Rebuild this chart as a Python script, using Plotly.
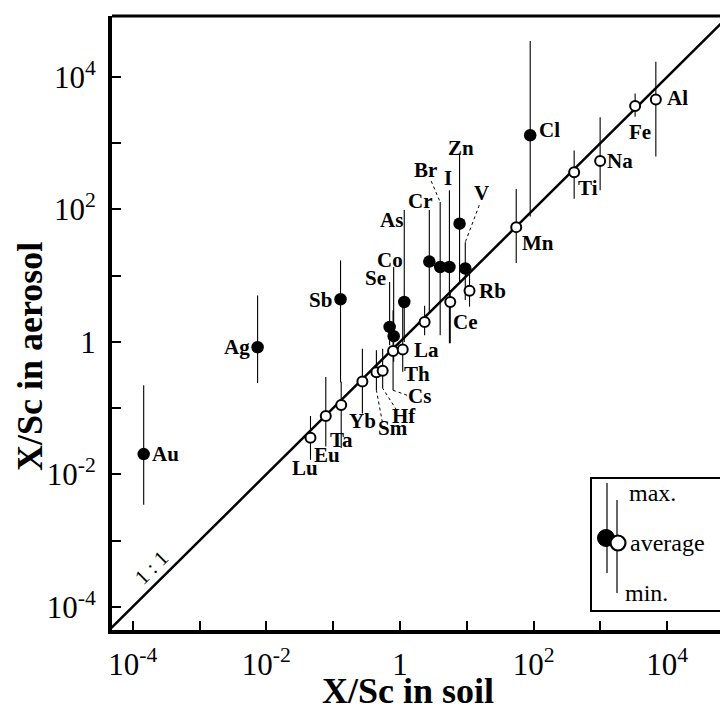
import numpy as np
import plotly.graph_objects as go

# ---------------- data ----------------
# enriched elements (filled circles)
filled_el = ["Au", "Ag", "Sb", "Se", "Co", "As", "Cr", "Br", "I", "Zn", "V", "Cl"]
filled_soil = [1.46e-4, 0.0074, 0.129, 0.70, 0.805, 1.16, 2.75, 4.0, 5.5, 7.8, 9.5, 89]
filled_avg = [0.0202, 0.83, 4.4, 1.68, 1.22, 4.0, 16.3, 13.5, 13.5, 61, 12.8, 1318]
filled_max = [0.222, 5.0, 17, 8.0, 13.5, 98, 98, 129, 195, 661, 32, 35000]
filled_min = [0.00347, 0.24, 0.245, 0.89, 0.5, 1.0, 2.8, 1.26, 0.95, 7.7, 4.3, 78]

# crustal elements (open circles)
open_el = ["Lu", "Eu", "Ta", "Yb", "Sm", "Hf", "Cs", "Th", "La", "Ce", "Rb",
           "Mn", "Ti", "Na", "Fe", "Al"]
open_soil = [0.0458, 0.0776, 0.132, 0.274, 0.444, 0.551, 0.789, 1.10, 2.34, 5.66, 11.0,
             55, 405, 991, 3311, 6761]
open_avg = [0.0356, 0.0759, 0.111, 0.253, 0.347, 0.366, 0.731, 0.767, 2.0, 4.0, 5.9,
            54, 363, 537, 3631, 4571]
open_max = [0.076, 0.295, 0.25, 0.79, 0.75, 0.79, 3.0, 4.3, 3.5, 6.0, 11.5,
            204, 776, 2455, 5623, 16982]
open_min = [0.0166, 0.0263, 0.025, 0.083, 0.186, 0.20, 0.186, 0.355, 1.26, 0.95, 3.4,
            15.5, 145, 195, 2512, 631]

one_to_one = [1e-6, 1e6]

tick_exps = [-4, -3, -2, -1, 0, 1, 2, 3, 4]
tick_text = ["10<sup>-4</sup>", "", "10<sup>-2</sup>", "", "1", "", "10<sup>2</sup>", "",
             "10<sup>4</sup>"]

# ---------------- layout / style ----------------
# the page body adds an 8 px offset; the figure is sized so it fills the window
OFF = 8
W, H = 728 - OFF, 710 - OFF
ML, MR, MT, MB = 112 - OFF, 0, 16 - OFF, 80
PW, PH = W - ML - MR, H - MT - MB
XR = [-4.31, 4.91]
YR = [-4.35, 4.92]
PXX = PW / (XR[1] - XR[0])   # pixels per decade
PXY = PH / (YR[1] - YR[0])
SERIF = "Liberation Serif, Times New Roman, serif"

# label offsets in pixels (dx right, dy down) from the average point
label_off = {
    "Au": (22, 0), "Ag": (-21, 0), "Sb": (-20, 1), "Se": (-14, -49), "Co": (-4, -76),
    "As": (-13, -82), "Cr": (-9, -61), "Br": (-15, -97), "I": (-1, -89), "Zn": (1, -76),
    "V": (16, -76), "Cl": (19, -5),
    "Lu": (-5, 30), "Eu": (1, 39), "Ta": (0, 35), "Yb": (0, 40), "Sm": (17, 56),
    "Hf": (21, 45), "Cs": (26, 45), "Th": (14, 24), "La": (2, 28), "Ce": (15, 20),
    "Rb": (23, 0), "Mn": (22, 16), "Ti": (14, 16), "Na": (20, 0), "Fe": (5, 26),
    "Al": (22, -1),
}
# dotted leader lines: (anchor 'max'/'min', start offset px)
leaders = {"Br": ("max", (-9, -21)), "V": ("max", (14, -37)), "Cs": ("min", (14, 5)),
           "Hf": ("min", (14, 22)), "Sm": ("min", (6, 32))}

fig = go.Figure()

# 1:1 line
fig.add_trace(go.Scatter(x=one_to_one, y=one_to_one, mode="lines",
                         line=dict(color="black", width=2.5), hoverinfo="skip",
                         showlegend=False))

def err(avg, mx, mn):
    a = np.array(avg, float)
    return dict(type="data", symmetric=False, array=np.array(mx) - a,
                arrayminus=a - np.array(mn), color="black", thickness=1.1, width=0)

fig.add_trace(go.Scatter(x=filled_soil, y=filled_avg, mode="markers",
                         marker=dict(size=12.5, color="black", line=dict(width=0)),
                         error_y=err(filled_avg, filled_max, filled_min),
                         showlegend=False))
fig.add_trace(go.Scatter(x=open_soil, y=open_avg, mode="markers",
                         marker=dict(size=10, color="white",
                                     line=dict(width=2, color="black")),
                         error_y=err(open_avg, open_max, open_min),
                         showlegend=False))

# leader lines
all_el = filled_el + open_el
all_x = filled_soil + open_soil
all_max = filled_max + open_max
all_min = filled_min + open_min
for el, (anc, (dx, dy)) in leaders.items():
    i = all_el.index(el)
    x0 = all_x[i]
    y0 = all_max[i] if anc == "max" else all_min[i]
    fig.add_trace(go.Scatter(x=[x0 * 10 ** (dx / PXX), x0], y=[y0 * 10 ** (-dy / PXY), y0],
                             mode="lines", line=dict(color="black", width=1, dash="dot"),
                             hoverinfo="skip", showlegend=False))

annotations = []
all_avg = filled_avg + open_avg
for el, x, y in zip(all_el, all_x, all_avg):
    dx, dy = label_off[el]
    annotations.append(dict(x=np.log10(x), y=np.log10(y), xref="x", yref="y",
                            xanchor="center", yanchor="middle",
                            text=f"<b>{el}</b>", showarrow=False, xshift=dx, yshift=-dy,
                            font=dict(family=SERIF, size=21, color="black")))

def px2paper(px, py):
    """window pixel -> paper coordinate"""
    return (px - OFF - ML) / PW, (H - MB - (py - OFF)) / PH

# axis titles
tx, ty = px2paper(408, 691)
annotations.append(dict(x=tx, y=ty, xref="paper", yref="paper", showarrow=False,
                        xanchor="center", yanchor="middle",
                        text="<b>X/Sc in soil</b>",
                        font=dict(family=SERIF, size=36, color="black")))
tx, ty = px2paper(30, 357)
annotations.append(dict(x=tx, y=ty, xref="paper", yref="paper", showarrow=False,
                        xanchor="center", yanchor="middle",
                        text="<b>X/Sc in aerosol</b>", textangle=-90,
                        font=dict(family=SERIF, size=36, color="black")))
# 1:1 label
tx, ty = px2paper(151, 568)
annotations.append(dict(x=tx, y=ty, xref="paper", yref="paper", showarrow=False,
                        xanchor="center", yanchor="middle",
                        text="1 : 1", textangle=-45,
                        font=dict(family=SERIF, size=21, color="black")))

# legend box contents
shapes = []
bx0, by0 = px2paper(591, 611)
bx1, by1 = px2paper(721, 478)
shapes.append(dict(type="rect", xref="paper", yref="paper", x0=bx0, y0=by0, x1=bx1, y1=by1,
                   line=dict(color="black", width=2), fillcolor="white"))
for (lx, ly0, ly1) in [(607, 483, 573), (617, 500, 593)]:
    a, b = px2paper(lx, ly0)
    _, c = px2paper(lx, ly1)
    shapes.append(dict(type="line", xref="paper", yref="paper", x0=a, x1=a, y0=b, y1=c,
                       line=dict(color="black", width=1.2)))
for (cx, cy, r, fill, lw) in [(606, 538, 8.5, "black", 1), (618, 543, 7.5, "white", 2.2)]:
    a, b = px2paper(cx - r, cy + r)
    c, d = px2paper(cx + r, cy - r)
    shapes.append(dict(type="circle", xref="paper", yref="paper", x0=a, y0=b, x1=c, y1=d,
                       line=dict(color="black", width=lw), fillcolor=fill))
for (txt, lx, ly) in [("max.", 627, 493), ("average", 628, 543), ("min.", 623, 593)]:
    a, b = px2paper(lx, ly)
    annotations.append(dict(x=a, y=b, xref="paper", yref="paper", xanchor="left",
                            yanchor="middle", showarrow=False, text=txt,
                            font=dict(family=SERIF, size=24, color="black")))

# top frame line
shapes.append(dict(type="line", xref="paper", yref="paper", x0=0, x1=1, y0=1, y1=1,
                   line=dict(color="black", width=3)))

axis_common = dict(type="log", tickmode="array", tickvals=[10.0 ** k for k in tick_exps],
                   ticktext=tick_text, ticks="inside", ticklen=9, tickwidth=2,
                   tickcolor="black", showline=True, linewidth=4, linecolor="black",
                   showgrid=False, zeroline=False, automargin=False,
                   tickfont=dict(family=SERIF, size=31, color="black"))

fig.update_layout(
    width=W, height=H, margin=dict(l=ML, r=MR, t=MT, b=MB, pad=0),
    paper_bgcolor="white", plot_bgcolor="white",
    xaxis=dict(range=XR, ticklabelstandoff=4, **axis_common),
    yaxis=dict(range=YR, ticklabelstandoff=6, **axis_common),
    annotations=annotations, shapes=shapes, showlegend=False,
)

fig.write_html("out.html")
